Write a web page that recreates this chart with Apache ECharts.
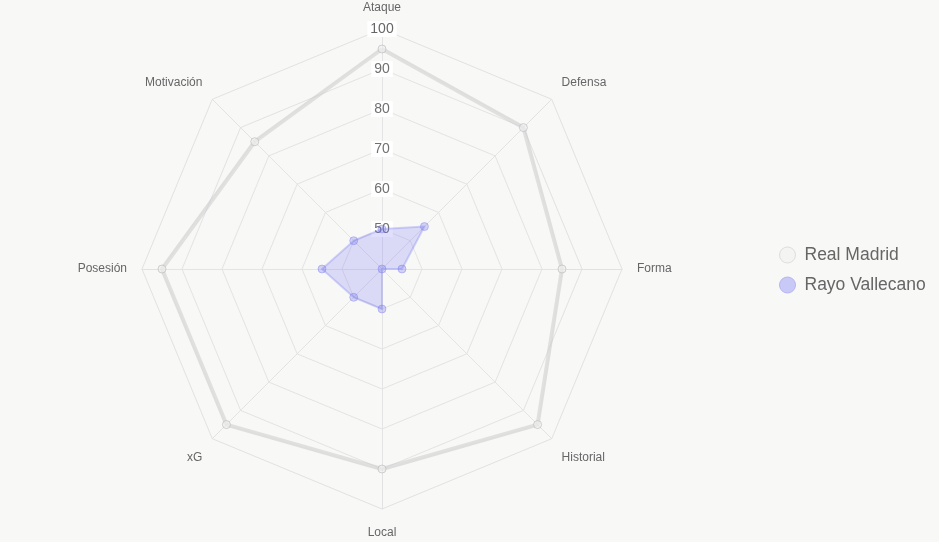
<!DOCTYPE html>
<html>
<head>
<meta charset="utf-8">
<script src="https://cdn.jsdelivr.net/npm/echarts@6/dist/echarts.min.js"></script>
<style>
  html, body { margin: 0; padding: 0; background: #f8f8f7; }
  #main { width: 939px; height: 542px; }
</style>
</head>
<body>
<div id="main"></div>
<script>
// categories, clockwise from the top
var categories = ['Ataque', 'Defensa', 'Forma', 'Historial', 'Local', 'xG', 'Posesión', 'Motivación'];
var realMadrid = [95, 90, 85, 95, 90, 95, 95, 85];
var rayo = [50, 55, 45, 40, 50, 50, 55, 50];
var scaleMin = 40, scaleMax = 100;

// echarts lays indicators out counter-clockwise, so flip the order after the first
var order = [0];
for (var i = categories.length - 1; i > 0; i--) order.push(i);
function pick(arr) { return order.map(function(k) { return arr[k]; }); }

var indicators = pick(categories).map(function(name, idx) {
  var ind = { name: name, min: scaleMin, max: scaleMax };
  if (idx === 0) ind.axisLabel = { show: true };
  return ind;
});

// push the point labels a bit further out, like chart.js does
function nameKey(name) {
  var k = categories.indexOf(name);
  if (k === 0) return 'top';
  if (k === 4) return 'bot';
  if (k === 1 || k === 7) return 'up';
  if (k === 3 || k === 5) return 'down';
  return 'side';
}

var chart = echarts.init(document.getElementById('main'));
chart.setOption({
  backgroundColor: '#f8f8f7',
  animation: false,
  legend: {
    orient: 'vertical',
    left: 774,
    top: 241,
    itemGap: 12,
    itemWidth: 16,
    itemHeight: 16,
    icon: 'circle',
    textStyle: { color: '#666', fontSize: 17.5, padding: [0, 0, 0, 4], fontFamily: 'Liberation Sans, Arial, sans-serif' },
    data: [
      { name: 'Real Madrid', itemStyle: { color: '#f4f4f3', borderColor: '#dedede', borderWidth: 1 } },
      { name: 'Rayo Vallecano', itemStyle: { color: '#c9c9f7', borderColor: '#b6b6f2', borderWidth: 1 } }
    ]
  },
  radar: {
    center: [382, 269],
    radius: 240,
    shape: 'polygon',
    splitNumber: 6,
    indicator: indicators,
    nameGap: 14,
    axisName: {
      color: '#666',
      fontSize: 12,
      fontFamily: 'Liberation Sans, Arial, sans-serif',
      formatter: function(name) { return '{' + nameKey(name) + '|' + name + '}'; },
      rich: {
        top: { color: '#666', fontSize: 12, padding: [0, 0, 1, 0] },
        bot: { color: '#666', fontSize: 12, padding: [4, 0, 0, 0] },
        up: { color: '#666', fontSize: 12, padding: [0, 0, 14, 0] },
        down: { color: '#666', fontSize: 12, padding: [18, 0, 0, 0] },
        side: { color: '#666', fontSize: 12, padding: [0, 1, 0, 1] }
      }
    },
    axisLine: { lineStyle: { color: '#e2e2e2', width: 1 } },
    splitLine: { lineStyle: { color: '#e2e2e2', width: 1 } },
    splitArea: { show: false },
    axisLabel: {
      show: false,
      showMinLabel: false,
      color: '#666',
      fontSize: 14,
      fontFamily: 'Liberation Sans, Arial, sans-serif',
      align: 'center',
      verticalAlign: 'middle',
      margin: 0,
      backgroundColor: '#ffffff',
      padding: [1, 3]
    }
  },
  series: [{
    type: 'radar',
    symbol: 'circle',
    symbolSize: 8,
    data: [
      {
        name: 'Real Madrid',
        value: pick(realMadrid),
        lineStyle: { color: 'rgba(200,200,200,0.55)', width: 4 },
        itemStyle: { color: 'rgba(240,240,240,0.6)', borderColor: 'rgba(190,190,190,0.7)', borderWidth: 1 },
        areaStyle: { color: 'rgba(255,255,255,0.1)' }
      },
      {
        name: 'Rayo Vallecano',
        value: pick(rayo),
        lineStyle: { color: 'rgba(120,120,240,0.3)', width: 2 },
        itemStyle: { color: 'rgba(120,120,240,0.3)', borderColor: 'rgba(120,120,240,0.4)', borderWidth: 1 },
        areaStyle: { color: 'rgba(110,110,250,0.3)' }
      }
    ]
  }]
});
</script>
</body>
</html>
